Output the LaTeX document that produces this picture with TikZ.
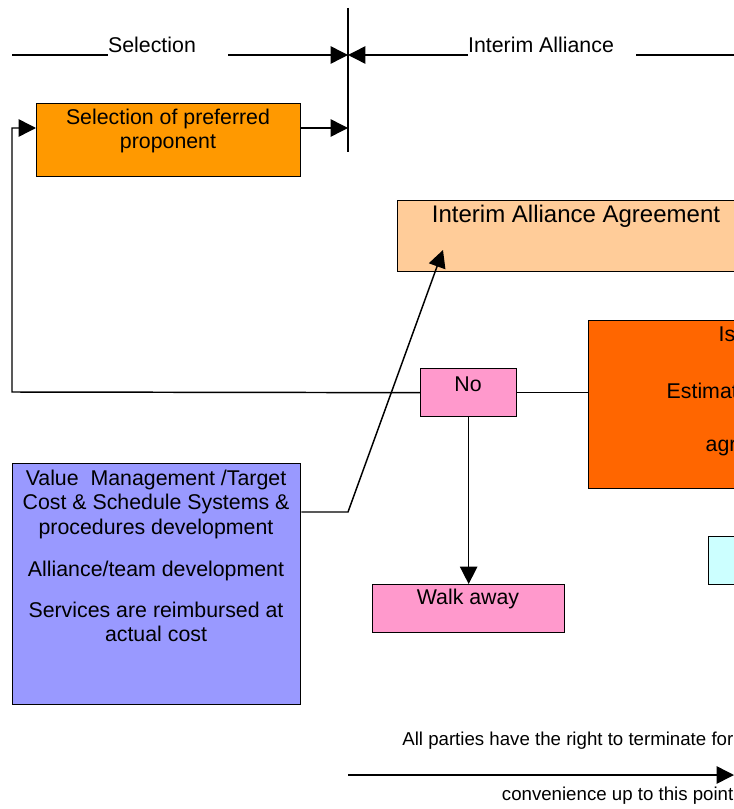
\documentclass[tikz,border=0pt]{standalone}
\usepackage{fontspec}
\setmainfont{Liberation Sans}
\usetikzlibrary{arrows.meta,calc}
\definecolor{cOrange}{HTML}{FF9900}
\definecolor{cPeach}{HTML}{FFCC99}
\definecolor{cDark}{HTML}{FF6600}
\definecolor{cPink}{HTML}{FF99CC}
\definecolor{cBlue}{HTML}{9999FF}
\definecolor{cCyan}{HTML}{CCFFFF}
\tikzset{
  box/.style={draw, line width=1pt, inner sep=0pt, anchor=north west},
  arr/.style={-{Triangle[length=13pt,width=13pt]}},
  ln/.style={line width=1.1pt},
  txt/.style={inner sep=0pt, font=\fontsize{16}{18.4}\selectfont, align=center},
}
\begin{document}
\begin{tikzpicture}[x=0.75pt,y=-0.75pt, line width=1pt]
\useasboundingbox (0,0) rectangle (734,809);
\clip (0,0) rectangle (734,809);
% boxes
\node[box, fill=cOrange, minimum width=264*0.75pt, minimum height=73*0.75pt] (sel) at (36,103) {};
\node[box, fill=cPeach, minimum width=370*0.75pt, minimum height=71*0.75pt] (iaa) at (397,200) {};
\node[box, fill=cDark, minimum width=200*0.75pt, minimum height=168*0.75pt] (cost) at (588,320) {};
\node[box, fill=cPink, minimum width=96*0.75pt, minimum height=48*0.75pt] (no) at (420,368) {};
\node[box, fill=cBlue, minimum width=288*0.75pt, minimum height=241*0.75pt] (vm) at (12,463) {};
\node[box, fill=cPink, minimum width=192*0.75pt, minimum height=48*0.75pt] (walk) at (372,584) {};
\node[box, fill=cCyan, minimum width=60*0.75pt, minimum height=48*0.75pt] (cyan) at (708,536) {};
% texts
\node[txt] (tsel) at (152,45) {Selection};
\node[txt] (tia) at (541,45) {Interim Alliance};
\node[txt] (tselbox) at (168,131) {Selection of preferred\\proponent};
\node[txt, font=\fontsize{18}{21}\selectfont] (tiaa) at (576,216) {Interim Alliance Agreement};
\node[txt] (tno) at (468,384) {No};
\node[txt, anchor=west] (tc1) at (718,334) {Is};
\node[txt, anchor=west] (tc2) at (666,391) {Estimat};
\node[txt, anchor=west] (tc3) at (705,448) {agr};
\node[txt] (tvm) at (156,556) {Value\ \ Management /Target\\Cost \& Schedule Systems \&\\procedures development\\[13pt]Alliance/team development\\[12.5pt]Services are reimbursed at\\actual cost};
\node[txt] (twalk) at (468,599) {Walk away};
\node[txt, anchor=east, font=\fontsize{14}{16}\selectfont] (tb1) at (734,741) {All parties have the right to terminate for};
\node[txt, anchor=east, font=\fontsize{14}{16}\selectfont] (tb2) at (734,796) {convenience up to this point};
% dimension line
\coordinate (d0) at (12,55);
\coordinate (d1) at (108,55);
\coordinate (d2) at (228,55);
\coordinate (dm) at (348,55);
\coordinate (d3) at (468,55);
\coordinate (d4) at (636,55);
\coordinate (d5) at (734,55);
\coordinate (vt) at (348,8);
\coordinate (vb) at (348,152);
\draw[ln] (d0) -- (d1);
\draw[ln, arr] (d2) -- (dm);
\draw[ln, arr] (d3) -- (dm);
\draw[ln] (d4) -- (d5);
\draw[ln] (vt) -- (vb);
% connectors
\coordinate (selout) at (348,128);
\draw[ln, arr] ([yshift=-18.75pt]sel.north east) -- (selout);
\coordinate (lc1) at (12,392);
\coordinate (lc2) at (12,128);
\draw[ln, arr] (no.west) -- (lc1) -- (lc2) -- ([yshift=-18.75pt]sel.north west);
\draw[ln] (no.east) -- (no.east -| cost.west);
\draw[ln, arr] (no.south) -- (walk.north);
\coordinate (vm1) at (348,512);
\coordinate (iaatip) at (443,250);
\draw[ln, arr] ([yshift=-36.75pt]vm.north east) -- (vm1) -- (iaatip);
\coordinate (ba) at (348,775);
\coordinate (bb) at (734,775);
\draw[ln, arr] (ba) -- (bb);
\end{tikzpicture}
\end{document}
